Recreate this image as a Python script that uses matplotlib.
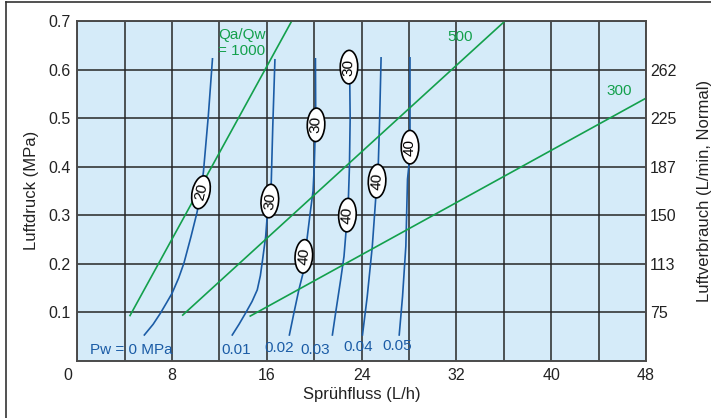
import matplotlib.pyplot as plt
from matplotlib.patches import Ellipse
from matplotlib.transforms import ScaledTranslation
from matplotlib.lines import Line2D

plt.rcParams['font.family'] = ['Liberation Sans', 'DejaVu Sans']

# Blue curves: air pressure vs spray flow at constant water pressure Pw
pw0_x = [5.66, 6.4, 7.02, 7.55, 8.0, 8.55, 9.0, 9.6, 10.1, 10.44, 10.65, 11.06, 11.41]
pw0_y = [0.053, 0.075, 0.098, 0.12, 0.139, 0.17, 0.201, 0.256, 0.305, 0.347, 0.39, 0.505, 0.622]
pw1_x = [13.08, 13.65, 14.2, 14.75, 15.19, 15.45, 15.6, 15.9, 16.03, 16.25, 16.37, 16.5, 16.68]
pw1_y = [0.053, 0.075, 0.098, 0.122, 0.146, 0.175, 0.201, 0.256, 0.298, 0.329, 0.367, 0.484, 0.62]
pw2_x = [17.9, 18.28, 18.7, 19.05, 19.12, 19.38, 19.66, 19.9, 20.0, 20.06, 20.12, 20.1]
pw2_y = [0.053, 0.098, 0.146, 0.18, 0.215, 0.249, 0.305, 0.35, 0.40, 0.452, 0.52, 0.622]
pw3_x = [21.53, 21.8, 22.23, 22.51, 22.68, 22.8, 22.88, 22.97, 23.03, 23.0, 22.93]
pw3_y = [0.053, 0.098, 0.167, 0.215, 0.266, 0.30, 0.333, 0.40, 0.5, 0.567, 0.605]
pw4_x = [24.07, 24.47, 24.9, 25.18, 25.3, 25.4, 25.52, 25.64]
pw4_y = [0.053, 0.132, 0.236, 0.332, 0.37, 0.401, 0.5, 0.624]
pw5_x = [27.17, 27.45, 27.73, 27.87, 28.0, 28.08, 28.08, 28.08]
pw5_y = [0.053, 0.132, 0.236, 0.374, 0.405, 0.44, 0.474, 0.624]

pw_names = ['Pw = 0 MPa', '0.01', '0.02', '0.03', '0.04', '0.05']
pw_name_x = [4.6, 13.4, 17.05, 20.1, 23.7, 27.0]
pw_name_y = [0.022, 0.022, 0.026, 0.022, 0.029, 0.030]

# spray angle marks on the curves
angle_txt = ['20', '30', '40', '30', '40', '30', '40', '40']
angle_x = [10.44, 16.25, 19.12, 20.15, 22.8, 22.93, 25.3, 28.08]
angle_y = [0.347, 0.329, 0.215, 0.486, 0.30, 0.605, 0.37, 0.44]
angle_tilt = [13, 5, 4, 2, 3, 1, 3, 0]

# green lines: constant air/water ratio Qa/Qw
q1000_x = [4.45, 18.1]
q1000_y = [0.093, 0.7]
q500_x = [8.9, 36.1]
q500_y = [0.094, 0.7]
q300_x = [14.6, 48.0]
q300_y = [0.092, 0.541]

air_ticks = [0.1, 0.2, 0.3, 0.4, 0.5, 0.6]
air_labels = ['75', '113', '150', '187', '225', '262']

blue = '#1b5ca6'
green = '#13a04c'
gridc = '#262626'

fig = plt.figure(figsize=(7.11, 4.18), dpi=100)
ax = fig.add_axes([0.1087, 0.1371, 0.7999, 0.8127])
ax.set_facecolor('#d5ebf9')
ax.set_xlim(0, 48)
ax.set_ylim(0, 0.7)
ax.set_xticks(range(0, 49, 8))
ax.set_xticks(range(4, 48, 8), minor=True)
ax.set_yticks([0.1, 0.2, 0.3, 0.4, 0.5, 0.6, 0.7])
ax.set_yticklabels(['0.1', '0.2', '0.3', '0.4', '0.5', '0.6', '0.7'])
ax.tick_params(which='both', length=0, labelsize=11.5, colors='#222222', pad=5)
ax.grid(True, which='both', color=gridc, lw=1.1)
ax.set_axisbelow(True)
for s in ax.spines.values():
    s.set_color('#4a4a4a')
    s.set_linewidth(1.2)

# shift the "0" label a bit to the left like in the original
lab0 = ax.get_xticklabels()[0]
lab0.set_transform(lab0.get_transform() + ScaledTranslation(-9 / 100, 0, fig.dpi_scale_trans))

for xs, ys in [(pw0_x, pw0_y), (pw1_x, pw1_y), (pw2_x, pw2_y),
               (pw3_x, pw3_y), (pw4_x, pw4_y), (pw5_x, pw5_y)]:
    ax.plot(xs, ys, color=blue, lw=1.2, zorder=3)

for xs, ys in [(q1000_x, q1000_y), (q500_x, q500_y), (q300_x, q300_y)]:
    ax.plot(xs, ys, color=green, lw=1.2, zorder=3)

for t, x, y in zip(pw_names, pw_name_x, pw_name_y):
    ax.text(x, y, t, color=blue, fontsize=11, ha='center', va='center', zorder=4)

ax.text(13.9, 0.655, 'Qa/Qw\n= 1000', color=green, fontsize=11, ha='center', va='center',
        linespacing=1.15, zorder=4)
ax.text(32.3, 0.668, '500', color=green, fontsize=11, ha='center', va='center', zorder=4)
ax.text(45.7, 0.555, '300', color=green, fontsize=11, ha='center', va='center', zorder=4)

for t, x, y, a in zip(angle_txt, angle_x, angle_y, angle_tilt):
    tr = fig.dpi_scale_trans + ScaledTranslation(x, y, ax.transData)
    ax.add_patch(Ellipse((0, 0), 0.175, 0.335, angle=-a, transform=tr,
                         facecolor='white', edgecolor='black', lw=1.2, zorder=5))
    ax.text(x, y, t, rotation=90 - a, rotation_mode='anchor', ha='center', va='center',
            fontsize=11, color='black', zorder=6)

ax.set_xlabel('Sprühfluss (L/h)', fontsize=12, color='#222222')
ax.set_ylabel('Luftdruck (MPa)', fontsize=12, color='#222222')
ax.xaxis.set_label_coords(0.5, -0.078)
ax.yaxis.set_label_coords(-0.068, 0.5)

ax2 = ax.twinx()
ax2.set_ylim(0, 0.7)
ax2.set_yticks(air_ticks)
ax2.set_yticklabels(air_labels)
ax2.tick_params(length=0, labelsize=11.5, colors='#222222', pad=3)
ax2.set_ylabel('Luftverbrauch (L/min, Normal)', fontsize=12, color='#222222')
ax2.yaxis.set_label_coords(1.09, 0.5)
for s in ax2.spines.values():
    s.set_color('#4a4a4a')
    s.set_linewidth(1.2)

# outer frame (cut off at right and bottom)
fig.add_artist(Line2D([6 / 711, 1], [1 - 2 / 418, 1 - 2 / 418], color='#333333', lw=1.2))
fig.add_artist(Line2D([6 / 711, 6 / 711], [0, 1 - 2 / 418], color='#333333', lw=1.2))

fig.savefig('out.png', dpi=100)
